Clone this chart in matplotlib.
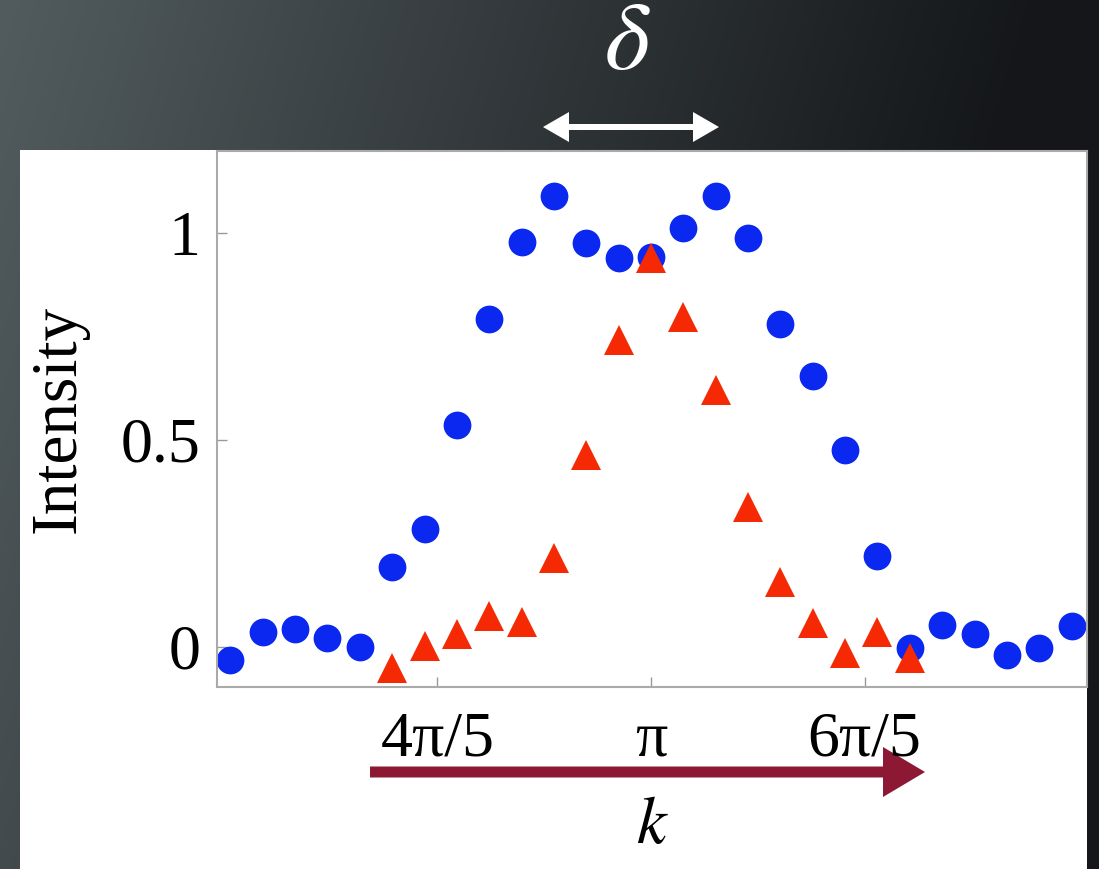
import numpy as np
import matplotlib
matplotlib.use('Agg')
import matplotlib.pyplot as plt
from matplotlib.patches import Rectangle, FancyArrow

plt.rcParams['font.family'] = ['Liberation Serif', 'DejaVu Serif']
plt.rcParams['mathtext.fontset'] = 'stix'

# momentum index n, k = 2*pi*n/66
n_blue = [20, 21, 22, 23, 24, 25, 26, 27, 28, 29, 30, 31, 32, 33,
          34, 35, 36, 37, 38, 39, 40, 41, 42, 43, 44, 45, 46]
i_blue = [-0.031, 0.036, 0.043, 0.022, 0.0, 0.193, 0.285, 0.536, 0.792,
          0.978, 1.089, 0.976, 0.940, 0.942, 1.012, 1.089, 0.988, 0.780,
          0.655, 0.475, 0.220, -0.002, 0.052, 0.030, -0.019, -0.002, 0.051]

n_red = [25, 26, 27, 28, 29, 30, 31, 32, 33, 34, 35, 36, 37, 38, 39, 40, 41]
i_red = [-0.051, 0.002, 0.031, 0.075, 0.060, 0.215, 0.464, 0.742, 0.940,
         0.797, 0.621, 0.338, 0.157, 0.058, -0.015, 0.036, -0.027]

xticks = [4 * np.pi / 5, np.pi, 6 * np.pi / 5]
xticklabels = ['4\u03c0/5', '\u03c0', '6\u03c0/5']
yticks = [0, 0.5, 1]
yticklabels = ['0', '0.5', '1']

k_blue = 2 * np.pi * np.array(n_blue) / 66
k_red = 2 * np.pi * np.array(n_red) / 66

W, H = 1099, 869
fig = plt.figure(figsize=(W / 100, H / 100), dpi=100)

# dark slide background with a soft gradient
bg = fig.add_axes([0, 0, 1, 1], zorder=0)
gx = np.linspace(0, 1, 300)[None, :]
gy = np.linspace(0, 1, 240)[:, None]
t = np.clip(gx * 1.05 + gy * 0.25, 0, 1)
c0 = np.array([82, 92, 94]) / 255
c1 = np.array([20, 22, 25]) / 255
img = c0[None, None, :] * (1 - t[..., None]) + c1[None, None, :] * t[..., None]
bg.imshow(img, extent=[0, W, H, 0], aspect='auto')
bg.set_xlim(0, W)
bg.set_ylim(H, 0)
bg.axis('off')

# white panel
bg.add_patch(Rectangle((20, 150), 1067, 719, facecolor='white', edgecolor='none'))

# delta arrow
bg.add_patch(FancyArrow(631, 127, 631 - 543, 0, width=6, head_width=30, head_length=26,
                        length_includes_head=True, color='white', lw=0))
bg.add_patch(FancyArrow(631, 127, 543 - 631, 0, width=6, head_width=30, head_length=26,
                        length_includes_head=True, color='white', lw=0))
bg.text(627, 46, r'$\delta$', color='white', fontsize=70, ha='center', va='center')

# k arrow
bg.add_patch(FancyArrow(370, 772, 555, 0, width=11, head_width=50, head_length=42,
                        length_includes_head=True, color='#8c1834', lw=0))

ax = fig.add_axes([217 / W, 1 - 687 / H, (1087 - 217) / W, (687 - 151) / H], zorder=1)
ax.set_facecolor('white')
ax.plot(k_blue, i_blue, 'o', color='#0a28f0', markersize=20, markeredgewidth=0)
ax.plot(k_red, i_red, '^', color='#f52a05', markersize=22, markeredgewidth=0)

ax.set_xlim(np.pi - 1.277, np.pi + 1.283)
ax.set_ylim(-0.097, 1.198)
ax.set_xticks(xticks)
ax.set_xticklabels(xticklabels)
ax.set_yticks(yticks)
ax.set_yticklabels(yticklabels)
ax.tick_params(direction='in', length=7, width=1, colors='#999999', labelcolor='black',
               labelsize=46, top=False, right=False)
ax.tick_params(axis='x', pad=18)
ax.tick_params(axis='y', pad=12)
for s in ax.spines.values():
    s.set_color('#aaaaaa')
    s.set_linewidth(1.5)

ax.set_ylabel('Intensity', fontsize=47, labelpad=23)
ax.set_xlabel(r'$k$', fontsize=48, labelpad=19)

fig.savefig('out.png', dpi=100)
